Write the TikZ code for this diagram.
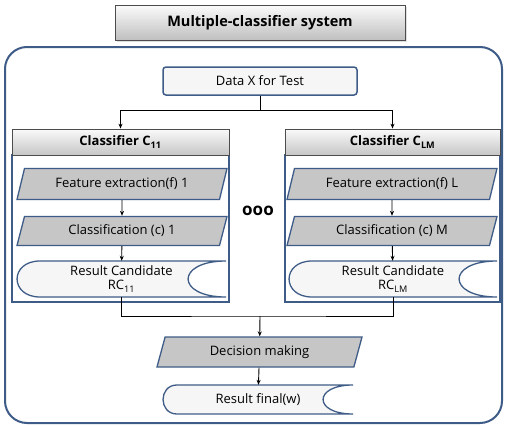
\documentclass[tikz,border=0pt]{standalone}
\usepackage{fontspec}
\setmainfont{Open Sans}
\usetikzlibrary{shapes.geometric,arrows.meta,shadows}
\definecolor{bl}{RGB}{62,92,135}
\definecolor{parafill}{RGB}{198,198,198}
\definecolor{docfill}{RGB}{246,246,246}
\newcommand\docpath[6]{%
  \filldraw[docst] ({#1+#5},#2) -- (#3,#2) .. controls ({#3-1.33*#6},#2) and ({#3-1.33*#6},#4) .. (#3,#4) -- ({#1+#5},#4) .. controls ({#1-0.33*#5},#4) and ({#1-0.33*#5},#2) .. ({#1+#5},#2) -- cycle;}
\begin{document}
\begin{tikzpicture}[x=1pt,y=-1pt,
  txt/.style={font=\fontsize{13}{14}\selectfont},
  para/.style={trapezium, trapezium left angle=58, trapezium right angle=122,
    trapezium stretches body, minimum width=210pt, minimum height=31pt, inner sep=0pt,
    draw=bl, line width=1.3pt, fill=parafill, txt},
  docst/.style={draw=bl, line width=1.3pt, fill=docfill},
  doctxt/.style={txt, align=center, inner sep=0pt},
  header/.style={rectangle, minimum width=217pt, minimum height=26pt, inner sep=0pt,
    top color=gray!4, bottom color=gray!45, draw=black!70, line width=0.8pt,
    font=\fontsize{13}{14}\selectfont\bfseries},
  body/.style={rectangle, draw=bl, line width=1.5pt, fill=white, inner sep=0pt},
  arr/.style={-{Stealth[length=5pt,width=4pt]}, line width=0.9pt},
  ln/.style={line width=0.9pt}]
\useasboundingbox (0,0) rectangle (507,426);
% outer
\node[rectangle, draw=bl, line width=2pt, rounded corners=22pt, minimum width=497pt, minimum height=376pt, inner sep=0pt] (outer) at (253.5,235) {};
% title
\node[rectangle, minimum width=290pt, minimum height=35pt, inner sep=0pt, top color=gray!3, bottom color=gray!50, draw=black!70, line width=0.8pt,
  drop shadow={opacity=0.25, shadow xshift=1.5pt, shadow yshift=-1.5pt},
  font=\fontsize{14.5}{16}\selectfont\bfseries] (title) at (260,22.5) {Multiple-classifier system};
% data
\node[rectangle, rounded corners=3pt, minimum width=194pt, minimum height=28pt, draw=bl, line width=1.5pt, fill=docfill, txt] (data) at (260,81) {Data X for Test};
% classifier bodies and headers
\node[body, minimum width=217pt, minimum height=147pt] (body1) at (120.5,228.5) {};
\node[body, minimum width=215pt, minimum height=147pt] (body2) at (392.5,228.5) {};
\node[header] (h1) at (120.5,142) {Classifier C\textsubscript{11}};
\node[header, minimum width=215pt] (h2) at (392.5,142) {Classifier C\textsubscript{LM}};
% left column
\node[para] (fe1) at (122,184) {Feature extraction(f) 1};
\node[para, minimum height=29pt] (cl1) at (122,231) {Classification (c) 1};
\docpath{17}{261}{226}{297}{23}{38}
\node[doctxt, minimum width=209pt, minimum height=36pt] (rc1) at (121.5,279) {Result Candidate\\RC\textsubscript{11}};
% right column
\node[para] (fe2) at (392,184) {Feature extraction(f) L};
\node[para, minimum height=29pt] (cl2) at (392,231) {Classification (c) M};
\docpath{289}{261}{497}{297}{23}{38}
\node[doctxt, minimum width=208pt, minimum height=36pt] (rc2) at (393,279) {Result Candidate\\RC\textsubscript{LM}};
% dots
\node[font=\fontsize{17}{18}\selectfont\bfseries] (dots) at (258,211) {ooo};
% decision
\node[para, minimum width=205pt, minimum height=30pt] (dec) at (259.5,352) {Decision making};
\docpath{163}{385}{353}{414}{14}{30}
\node[doctxt, minimum width=190pt, minimum height=29pt] (fin) at (258,399.5) {Result final(w)};
% connectors
\coordinate (s) at (260,110);
\coordinate (m) at (260,316);
\draw[ln] (data) -- (s);
\draw[arr] (s) -| (h1);
\draw[arr] (s) -| (h2);
\draw[arr] (fe1) -- (cl1);
\draw[arr] (cl1) -- (rc1);
\draw[arr] (fe2) -- (cl2);
\draw[arr] (cl2) -- (rc2);
\draw[ln] (rc1.south) |- (m) -| (rc2.south);
\draw[arr] (m) -- (dec);
\draw[arr] (dec) -- (fin);
\end{tikzpicture}
\end{document}
